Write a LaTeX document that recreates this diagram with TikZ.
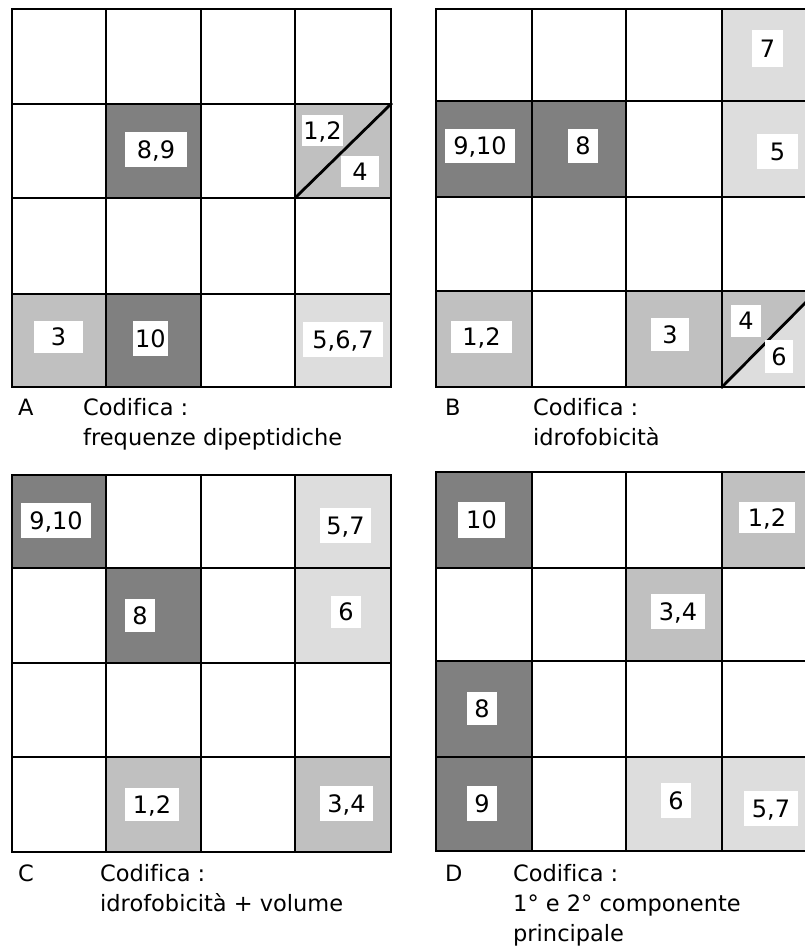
\documentclass[tikz,border=0pt]{standalone}
\usepackage{fontspec}
\setmainfont[Ligatures=NoCommon]{DejaVu Sans}
\definecolor{dk}{HTML}{808080}
\definecolor{md}{HTML}{C0C0C0}
\definecolor{lt}{HTML}{DDDDDD}
\tikzset{
  gridline/.style={line width=2.8pt, line cap=rect, black},
  lbl/.style={fill=white, inner sep=0pt, text height=17.5pt, text depth=0pt,
              font=\fontsize{24}{24}\selectfont},
  captxt/.style={anchor=base west, inner sep=0pt, font=\fontsize{22.5}{22.5}\selectfont}
}
\begin{document}
\begin{tikzpicture}[x=1pt,y=-1pt]
\useasboundingbox (0,0) rectangle (805,950);
\fill[white] (0,0) rectangle (805,950);

% ---------- Grid A ----------
\fill[dk] (106,104) rectangle (201,198);
\fill[md] (295,104) rectangle (391,198);
\fill[md] (12,294) rectangle (106,387);
\fill[dk] (106,294) rectangle (201,387);
\fill[lt] (295,294) rectangle (391,387);
\foreach \x in {12,106,201,295,391} \draw[gridline] (\x,9) -- (\x,387);
\foreach \y in {9,104,198,294,387} \draw[gridline] (12,\y) -- (391,\y);
\draw[gridline] (295,198) -- (391,104);

% ---------- Grid B ----------
\fill[lt] (722,9) rectangle (817,101);
\fill[dk] (436,101) rectangle (532,197);
\fill[dk] (532,101) rectangle (626,197);
\fill[lt] (722,101) rectangle (817,197);
\fill[md] (436,291) rectangle (532,387);
\fill[md] (626,291) rectangle (722,387);
\fill[lt] (722,291) rectangle (817,387);
\fill[md] (722,291) -- (817,291) -- (722,387) -- cycle;
\foreach \x in {436,532,626,722,817} \draw[gridline] (\x,9) -- (\x,387);
\foreach \y in {9,101,197,291,387} \draw[gridline] (436,\y) -- (817,\y);
\draw[gridline] (722,387) -- (817,291);

% ---------- Grid C ----------
\fill[dk] (12,475) rectangle (106,568);
\fill[lt] (295,475) rectangle (391,568);
\fill[dk] (106,568) rectangle (201,663);
\fill[lt] (295,568) rectangle (391,663);
\fill[md] (106,757) rectangle (201,852);
\fill[md] (295,757) rectangle (391,852);
\foreach \x in {12,106,201,295,391} \draw[gridline] (\x,475) -- (\x,852);
\foreach \y in {475,568,663,757,852} \draw[gridline] (12,\y) -- (391,\y);

% ---------- Grid D ----------
\fill[dk] (436,472) rectangle (532,568);
\fill[md] (722,472) rectangle (817,568);
\fill[md] (626,568) rectangle (722,661);
\fill[dk] (436,661) rectangle (532,757);
\fill[dk] (436,757) rectangle (532,851);
\fill[lt] (626,757) rectangle (722,851);
\fill[lt] (722,757) rectangle (817,851);
\foreach \x in {436,532,626,722,817} \draw[gridline] (\x,472) -- (\x,851);
\foreach \y in {472,568,661,757,851} \draw[gridline] (436,\y) -- (817,\y);

% ---------- Labels A ----------
\node[lbl, minimum width=62pt, minimum height=35pt] (a89) at (156,149.5) {8,9};
\node[lbl, minimum width=41pt, minimum height=31pt] (a12) at (322.5,130.5) {1,2};
\node[lbl, minimum width=38pt, minimum height=31pt] (a4) at (360,171.5) {4};
\node[lbl, minimum width=49pt, minimum height=32pt] (a3) at (58.5,337) {3};
\node[lbl, minimum width=35pt, minimum height=35pt] (a10) at (150.5,338.5) {10};
\node[lbl, minimum width=80pt, minimum height=35pt] (a567) at (343,339.5) {5,6,7};

% ---------- Labels B ----------
\node[lbl, minimum width=31pt, minimum height=37pt] (b7) at (767.5,48.5) {7};
\node[lbl, minimum width=70pt, minimum height=34pt] (b910) at (480,146) {9,10};
\node[lbl, minimum width=30pt, minimum height=34pt] (b8) at (583,146) {8};
\node[lbl, minimum width=41pt, minimum height=35pt] (b5) at (777.5,151.5) {5};
\node[lbl, minimum width=61pt, minimum height=32pt] (b12) at (481.5,337) {1,2};
\node[lbl, minimum width=38pt, minimum height=33pt] (b3) at (670,334.5) {3};
\node[lbl, minimum width=30pt, minimum height=32pt] (b4) at (746,321) {4};
\node[lbl, minimum width=28pt, minimum height=33pt] (b6) at (779,356.5) {6};

% ---------- Labels C ----------
\node[lbl, minimum width=70pt, minimum height=35pt] (c910) at (56,520.5) {9,10};
\node[lbl, minimum width=51pt, minimum height=35pt] (c57) at (345.5,525.5) {5,7};
\node[lbl, minimum width=30pt, minimum height=33pt] (c8) at (140,615.5) {8};
\node[lbl, minimum width=30pt, minimum height=32pt] (c6) at (346,612) {6};
\node[lbl, minimum width=54pt, minimum height=33pt] (c12) at (152,804.5) {1,2};
\node[lbl, minimum width=53pt, minimum height=35pt] (c34) at (346.5,803.5) {3,4};

% ---------- Labels D ----------
\node[lbl, minimum width=47pt, minimum height=36pt] (d10) at (481.5,520) {10};
\node[lbl, minimum width=56pt, minimum height=31pt] (d12) at (767,517.5) {1,2};
\node[lbl, minimum width=54pt, minimum height=35pt] (d34) at (678,611.5) {3,4};
\node[lbl, minimum width=30pt, minimum height=33pt] (d8) at (482,708.5) {8};
\node[lbl, minimum width=30pt, minimum height=35pt] (d9) at (482,803.5) {9};
\node[lbl, minimum width=30pt, minimum height=35pt] (d6) at (676,800.5) {6};
\node[lbl, minimum width=54pt, minimum height=35pt] (d57) at (771,808.5) {5,7};

% ---------- Captions ----------
\node[captxt] (capA) at (18,415) {A};
\node[captxt] (capA1) at (83,415) {Codifica :};
\node[captxt] (capA2) at (83,445) {frequenze dipeptidiche};
\node[captxt] (capB) at (445,415) {B};
\node[captxt] (capB1) at (533,415) {Codifica :};
\node[captxt] (capB2) at (533,445) {idrofobicità};
\node[captxt] (capC) at (18,881) {C};
\node[captxt] (capC1) at (100,881) {Codifica :};
\node[captxt] (capC2) at (100,911) {idrofobicità + volume};
\node[captxt] (capD) at (445,881) {D};
\node[captxt] (capD1) at (513,881) {Codifica :};
\node[captxt] (capD2) at (513,911) {1° e 2° componente};
\node[captxt] (capD3) at (513,941) {principale};
\end{tikzpicture}
\end{document}
